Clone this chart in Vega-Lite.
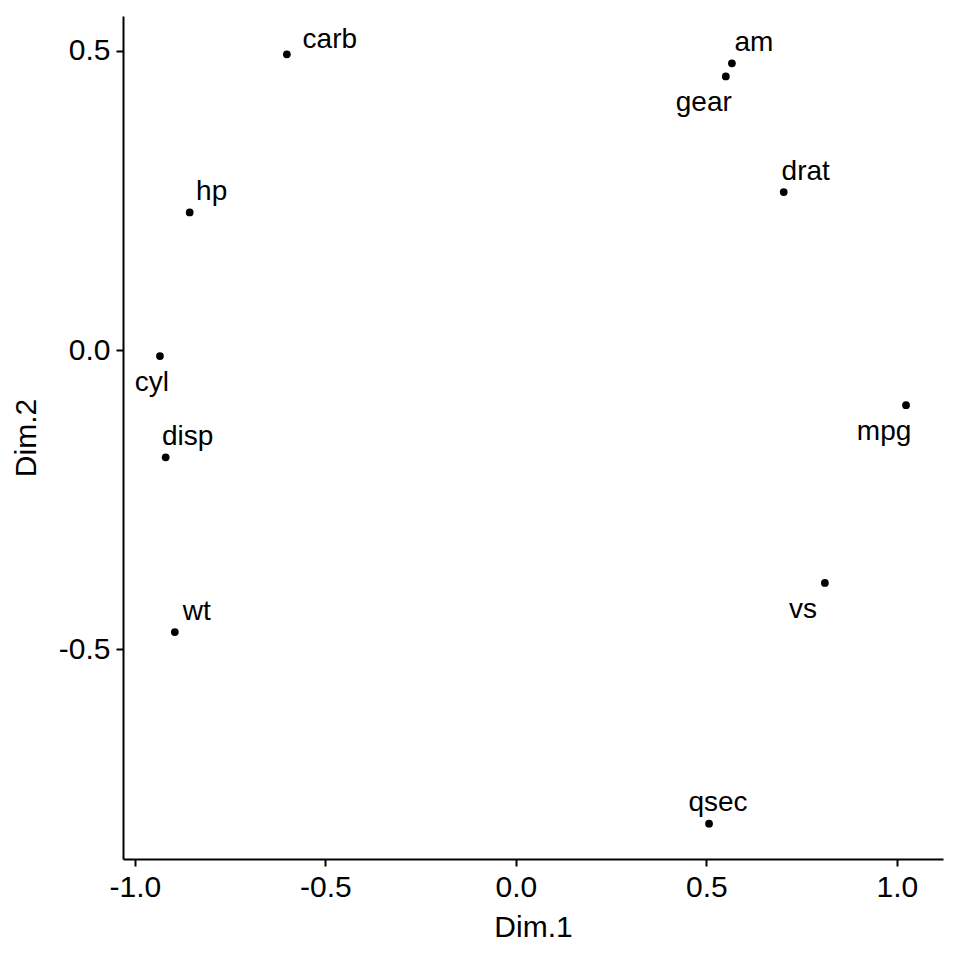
{
  "$schema": "https://vega.github.io/schema/vega-lite/v6.json",
  "width": 820,
  "height": 843,
  "autosize": "none",
  "padding": {"left": 123, "top": 16, "right": 17, "bottom": 101},
  "background": "white",
  "config": {
    "view": {"stroke": null},
    "axis": {
      "grid": false,
      "domainColor": "black",
      "domainWidth": 2,
      "tickColor": "black",
      "tickWidth": 2,
      "tickSize": 7,
      "labelFont": "Liberation Sans",
      "labelFontSize": 30,
      "labelColor": "black",
      "titleFont": "Liberation Sans",
      "titleFontSize": 30,
      "titleFontWeight": "normal",
      "titleColor": "black"
    }
  },
  "data": {
    "values": [
      {"name": "carb", "x": -0.601, "y": 0.494},
      {"name": "am", "x": 0.567, "y": 0.479},
      {"name": "gear", "x": 0.551, "y": 0.457},
      {"name": "drat", "x": 0.703, "y": 0.264},
      {"name": "hp", "x": -0.856, "y": 0.230},
      {"name": "cyl", "x": -0.934, "y": -0.010},
      {"name": "mpg", "x": 1.024, "y": -0.092},
      {"name": "disp", "x": -0.919, "y": -0.179},
      {"name": "vs", "x": 0.811, "y": -0.389},
      {"name": "wt", "x": -0.895, "y": -0.471},
      {"name": "qsec", "x": 0.507, "y": -0.791}
    ]
  },
  "encoding": {
    "x": {
      "field": "x", "type": "quantitative",
      "scale": {"domain": [-1.031, 1.121], "nice": false, "zero": false},
      "axis": {"title": "Dim.1", "values": [-1, -0.5, 0, 0.5, 1], "labelExpr": "datum.value < 0 ? '-' + format(-datum.value, '.1f') : format(datum.value, '.1f')", "labelPadding": 6, "titlePadding": 10}
    },
    "y": {
      "field": "y", "type": "quantitative",
      "scale": {"domain": [-0.85, 0.558], "nice": false, "zero": false},
      "axis": {"title": "Dim.2", "values": [-0.5, 0, 0.5], "labelExpr": "datum.value < 0 ? '-' + format(-datum.value, '.1f') : format(datum.value, '.1f')", "labelPadding": 6, "titlePadding": 17}
    }
  },
  "layer": [
    {"mark": {"type": "point", "filled": true, "size": 60, "color": "black", "opacity": 1}},
    {
      "transform": [{"filter": {"field": "name", "oneOf": ["am", "drat", "hp", "disp", "wt"]}}],
      "mark": {"type": "text", "font": "Liberation Sans", "fontSize": 28, "color": "black", "align": "center", "baseline": "middle", "dx": 22, "dy": -20},
      "encoding": {"text": {"field": "name"}}
    },
    {
      "transform": [{"filter": {"field": "name", "oneOf": ["gear", "mpg", "vs"]}}],
      "mark": {"type": "text", "font": "Liberation Sans", "fontSize": 28, "color": "black", "align": "center", "baseline": "middle", "dx": -22, "dy": 27},
      "encoding": {"text": {"field": "name"}}
    },
    {
      "transform": [{"filter": {"field": "name", "equal": "carb"}}],
      "mark": {"type": "text", "font": "Liberation Sans", "fontSize": 28, "color": "black", "align": "center", "baseline": "middle", "dx": 43, "dy": -14},
      "encoding": {"text": {"field": "name"}}
    },
    {
      "transform": [{"filter": {"field": "name", "equal": "cyl"}}],
      "mark": {"type": "text", "font": "Liberation Sans", "fontSize": 28, "color": "black", "align": "center", "baseline": "middle", "dx": -8, "dy": 27},
      "encoding": {"text": {"field": "name"}}
    },
    {
      "transform": [{"filter": {"field": "name", "equal": "qsec"}}],
      "mark": {"type": "text", "font": "Liberation Sans", "fontSize": 28, "color": "black", "align": "center", "baseline": "middle", "dx": 9, "dy": -21},
      "encoding": {"text": {"field": "name"}}
    }
  ]
}
